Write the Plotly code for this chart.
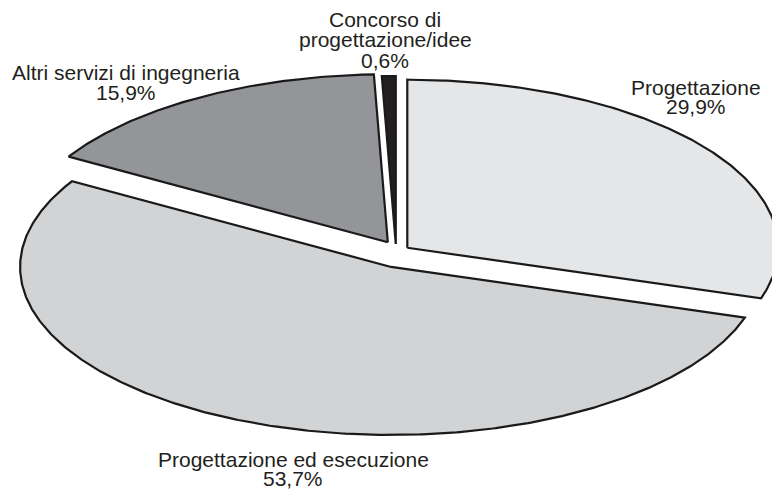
import numpy as np
import plotly.graph_objects as go

# ---- data ----
categories = ["Progettazione", "Progettazione ed esecuzione",
              "Altri servizi di ingegneria", "Concorso di progettazione/idee"]
label_lines = [["Progettazione"], ["Progettazione ed esecuzione"],
               ["Altri servizi di ingegneria"], ["Concorso di", "progettazione/idee"]]
values = [29.9, 53.7, 15.9, 0.6]
pct_labels = ["29,9%", "53,7%", "15,9%", "0,6%"]

# ---- style / geometry ----
colors = ["#e5e6e8", "#d2d3d5", "#949599", "#231f20"]
pulls = [14, 12, 16, 12]          # explosion distance (px)
CX, CY = 396, 256                 # pie centre (px)
RX, RY = 371, 168                 # ellipse radii (px)
W, H = 772, 491
FONT = dict(family="Liberation Sans, Arial, sans-serif", size=21, color="#231f20")
# label anchors (centre x, baseline of first line, line spacing)
label_pos = [(696, 95, 19), (293, 467, 19), (126, 80, 20), (385, 27, 20.5)]

fig = go.Figure()
total = sum(values)
start = 0.0
for v, col, p in zip(values, colors, pulls):
    a0 = start / total * 2 * np.pi
    a1 = (start + v) / total * 2 * np.pi
    start += v
    mid = (a0 + a1) / 2
    cx = CX + p * np.sin(mid)
    cy = CY - p * np.cos(mid)
    t = np.linspace(a0, a1, max(4, int((a1 - a0) * 120)))
    xs = np.concatenate([[cx], cx + RX * np.sin(t), [cx]])
    ys = np.concatenate([[cy], cy - RY * np.cos(t), [cy]])
    fig.add_trace(go.Scatter(x=xs, y=ys, mode="lines", fill="toself",
                             fillcolor=col, line=dict(color="#1a1a1a", width=2.2),
                             hoverinfo="skip", showlegend=False))

for lines, pct, (lx, ly, lsp) in zip(label_lines, pct_labels, label_pos):
    all_lines = lines + [pct]
    for i, txt in enumerate(all_lines):
        fig.add_annotation(x=lx, y=ly + i * lsp - 0.36 * FONT["size"], text=txt,
                           showarrow=False, xanchor="center", yanchor="middle",
                           font=FONT)

fig.update_layout(
    width=W, height=H, margin=dict(l=0, r=0, t=0, b=0),
    paper_bgcolor="white", plot_bgcolor="white",
    xaxis=dict(range=[0, W], visible=False, fixedrange=True),
    yaxis=dict(range=[H, 0], visible=False, fixedrange=True),
)
fig.write_html("out.html", config={"displayModeBar": False},
               post_script="document.body.style.margin='0';document.body.style.overflow='hidden';")
